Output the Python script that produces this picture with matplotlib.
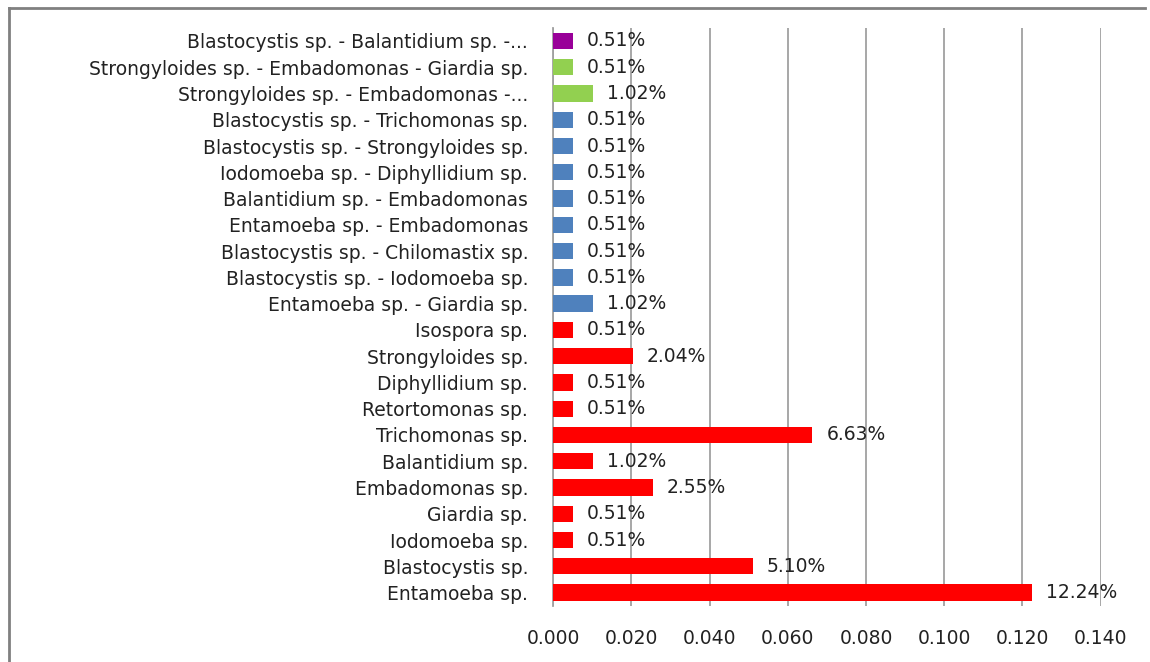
import matplotlib
matplotlib.use('Agg')
import matplotlib.pyplot as plt
from matplotlib.lines import Line2D

# bottom to top, as in the chart
labels = ['Entamoeba sp.', 'Blastocystis sp.', 'Iodomoeba sp.', 'Giardia sp.',
          'Embadomonas sp.', 'Balantidium sp.', 'Trichomonas sp.', 'Retortomonas sp.',
          'Diphyllidium sp.', 'Strongyloides sp.', 'Isospora sp.',
          'Entamoeba sp. - Giardia sp.', 'Blastocystis sp. - Iodomoeba sp.',
          'Blastocystis sp. - Chilomastix sp.', 'Entamoeba sp. - Embadomonas',
          'Balantidium sp. - Embadomonas', 'Iodomoeba sp. - Diphyllidium sp.',
          'Blastocystis sp. - Strongyloides sp.', 'Blastocystis sp. - Trichomonas sp.',
          'Strongyloides sp. - Embadomonas -...',
          'Strongyloides sp. - Embadomonas - Giardia sp.',
          'Blastocystis sp. - Balantidium sp. -...']
values = [0.1224, 0.0510, 0.0051, 0.0051, 0.0255, 0.0102, 0.0663, 0.0051,
          0.0051, 0.0204, 0.0051,
          0.0102, 0.0051, 0.0051, 0.0051, 0.0051, 0.0051, 0.0051, 0.0051,
          0.0102, 0.0051, 0.0051]
groups = ['single'] * 11 + ['double'] * 8 + ['triple'] * 2 + ['quad']
group_colors = {'single': '#FF0000', 'double': '#4F81BD',
                'triple': '#92D050', 'quad': '#990099'}
xticks = [0.0, 0.02, 0.04, 0.06, 0.08, 0.10, 0.12, 0.14]

plt.rcParams['font.family'] = ['DejaVu Sans']

fig = plt.figure(figsize=(11.5, 6.62), dpi=100)
ax = fig.add_axes([0.481, 0.085, 0.476, 0.873])

cols = [group_colors[g] for g in groups]
ypos = list(range(len(labels)))
ax.barh(ypos, values, height=0.62, color=cols, zorder=3)

for y, v in zip(ypos, values):
    ax.annotate('%.2f%%' % (v * 100), (v, y), xytext=(10, 0),
                textcoords='offset points', va='center', ha='left',
                fontsize=13.5, color='#222222', zorder=4)

ax.set_xlim(0, 0.14)
ax.set_ylim(-0.5, len(labels) - 0.5)
ax.set_xticks(xticks)
ax.set_xticklabels(['%.3f' % t for t in xticks], fontsize=13.5, color='#222222')
ax.set_yticks(ypos)
ax.set_yticklabels(labels, fontsize=13.5, color='#222222')
ax.tick_params(axis='both', length=0)
ax.tick_params(axis='x', pad=17)
ax.tick_params(axis='y', pad=18)
ax.xaxis.grid(True, color='#A0A0A0', linewidth=1.3, zorder=0)
for s in ['top', 'right', 'bottom']:
    ax.spines[s].set_visible(False)
ax.spines['left'].set_color('#A0A0A0')
ax.spines['left'].set_linewidth(1.3)

# outer chart border (left and top visible)
fig.add_artist(Line2D([0.008, 0.008], [0.0, 0.988], transform=fig.transFigure,
                      color='#808080', linewidth=2))
fig.add_artist(Line2D([0.008, 0.996], [0.988, 0.988], transform=fig.transFigure,
                      color='#808080', linewidth=2))

fig.savefig('out.png', dpi=100)
